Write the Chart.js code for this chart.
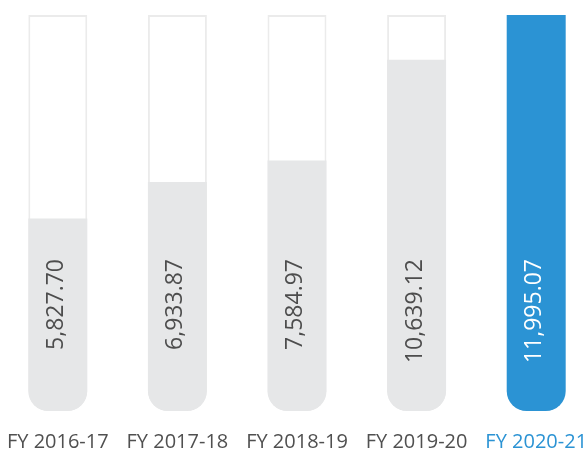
<!DOCTYPE html>
<html>
<head>
<meta charset="utf-8">
<script src="https://cdn.jsdelivr.net/npm/chart.js@4/dist/chart.umd.min.js"></script>
<style>
  html, body { margin: 0; padding: 0; background: #fff; overflow: hidden; width: 587px; height: 450px; }
  /* canvas a little larger than the window so the tick labels sit low, as in the reference */
  #wrap { position: absolute; left: -2px; top: 0; width: 598px; height: 473px; }
</style>
</head>
<body>
<div id="wrap"><canvas id="chart"></canvas></div>
<script>
// fiscal years and values
const years = ['FY 2016-17', 'FY 2017-18', 'FY 2018-19', 'FY 2019-20', 'FY 2020-21'];
const values = [5827.70, 6933.87, 7584.97, 10639.12, 11995.07];
const valueLabels = ['5,827.70', '6,933.87', '7,584.97', '10,639.12', '11,995.07'];

const GREY = '#e6e7e8';
const BLUE = '#2b93d4';
const TEXT = '#4d4d4d';
const last = years.length - 1;
const maxVal = Math.max(...values);

// vertical value text inside each tube, all ending at the same height
const tubeLabels = {
  id: 'tubeLabels',
  afterDatasetsDraw(chart) {
    const { ctx, scales: { y } } = chart;
    const meta = chart.getDatasetMeta(0);
    const yEnd = y.getPixelForValue(0) - 152;
    ctx.save();
    ctx.font = '23px "Open Sans"';
    ctx.textAlign = 'right';
    ctx.textBaseline = 'alphabetic';
    meta.data.forEach((bar, i) => {
      ctx.save();
      ctx.translate(bar.x + 5, yEnd);
      ctx.rotate(-Math.PI / 2);
      ctx.fillStyle = i === last ? '#ffffff' : TEXT;
      ctx.fillText(valueLabels[i], 0, 0);
      ctx.restore();
    });
    ctx.restore();
  },
};

new Chart(document.getElementById('chart'), {
  type: 'bar',
  data: {
    labels: years,
    datasets: [
      {
        data: values,
        backgroundColor: values.map((v, i) => (i === last ? BLUE : GREY)),
        borderWidth: 0,
        borderSkipped: false,
        borderRadius: { topLeft: 0, topRight: 0, bottomLeft: 20, bottomRight: 20 },
      },
      {
        // empty "tube" behind each bar
        data: years.map(() => maxVal),
        backgroundColor: '#ffffff',
        borderColor: '#ebebeb',
        borderWidth: 2,
        borderSkipped: false,
        borderRadius: { topLeft: 0, topRight: 0, bottomLeft: 20, bottomRight: 20 },
      },
    ],
  },
  options: {
    responsive: true,
    maintainAspectRatio: false,
    animation: false,
    layout: { padding: { top: 15, bottom: 0, left: 0, right: 0 } },
    datasets: { bar: { grouped: false, categoryPercentage: 1, barPercentage: 0.493 } },
    plugins: { legend: { display: false }, tooltip: { enabled: false } },
    scales: {
      x: {
        grid: { display: false, drawTicks: false },
        border: { display: false },
        ticks: {
          padding: 0,
          font: { family: '"Open Sans"', size: 20, lineHeight: 3.1 },
          color: (c) => (c.index === last ? BLUE : '#505050'),
          maxRotation: 0,
          autoSkip: false,
        },
      },
      y: { display: false, min: 0, max: maxVal },
    },
  },
  plugins: [tubeLabels],
});
</script>
</body>
</html>
